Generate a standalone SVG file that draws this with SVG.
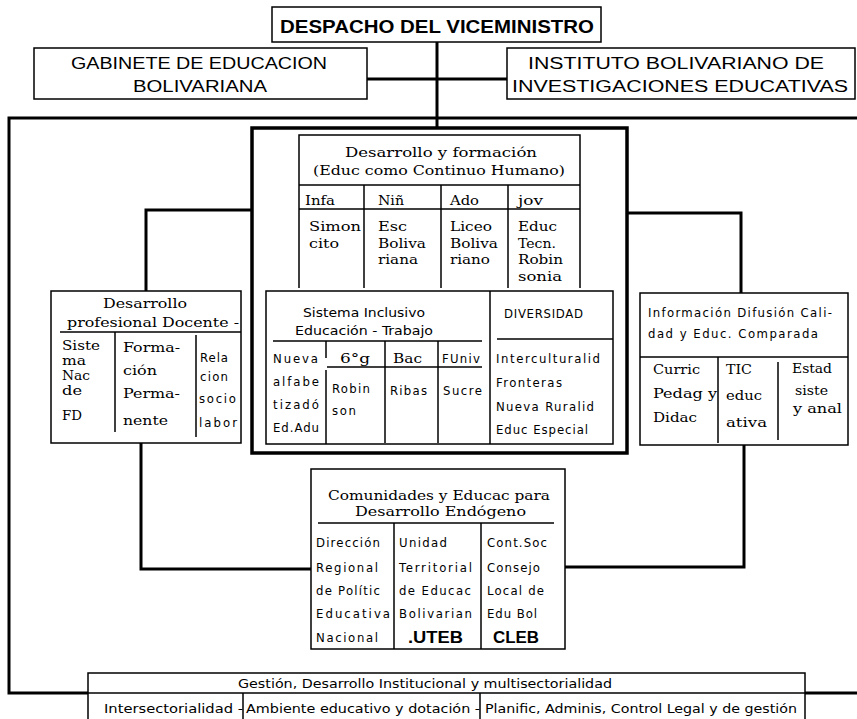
<svg xmlns="http://www.w3.org/2000/svg" width="857" height="719" viewBox="0 0 857 719">
<style>
.bg{fill:#fff}
.box{fill:#fff;stroke:#000;stroke-width:1.5}
.thin{stroke:#000;stroke-width:1.5;fill:none}
.con{stroke:#000;stroke-width:3;fill:none}
.thick{fill:none;stroke:#000;stroke-width:3.5}
.s{font-family:"DejaVu Serif","Liberation Serif",serif;font-size:13px;fill:#000}
.n{font-family:"DejaVu Sans Condensed","DejaVu Sans","Liberation Sans",sans-serif;font-size:13px;fill:#000}
.a{font-family:"Liberation Sans Narrow","Liberation Sans",Arial,sans-serif;font-size:16px;fill:#000}
.h{font-family:"Liberation Sans Narrow","Liberation Sans",Arial,sans-serif;font-size:18px;font-weight:bold;fill:#000}
.b{font-family:"Liberation Sans",Arial,sans-serif;font-size:16px;font-weight:bold;fill:#000}
</style>
<rect class="bg" x="0" y="0" width="857" height="719"/>

<g id="connectors">
<line class="con" x1="437" y1="42" x2="437" y2="128"/>
<line class="con" x1="367" y1="79" x2="507" y2="79"/>
<polyline class="con" points="857,118 9,118 9,693 88,693"/>
<line class="con" x1="805" y1="693" x2="857" y2="693"/>
<polyline class="con" points="252,210 146,210 146,291"/>
<polyline class="con" points="627,213 741,213 741,293"/>
<polyline class="con" points="141,443 141,569 311,569"/>
<polyline class="con" points="744,445 744,567 565,567"/>
</g>

<g id="despacho">
<rect class="box" x="272" y="7" width="329" height="35"/>
<text class="h" x="280" y="33" textLength="314" lengthAdjust="spacingAndGlyphs">DESPACHO DEL VICEMINISTRO</text>
</g>

<g id="gabinete">
<rect class="box" x="34" y="48" width="333" height="51"/>
<text class="a" x="71" y="69" textLength="256" lengthAdjust="spacingAndGlyphs">GABINETE DE EDUCACION</text>
<text class="a" x="133" y="92" textLength="134" lengthAdjust="spacingAndGlyphs">BOLIVARIANA</text>
</g>

<g id="instituto">
<rect class="box" x="507" y="48" width="348" height="51"/>
<text class="a" x="528" y="69" textLength="296" lengthAdjust="spacingAndGlyphs">INSTITUTO BOLIVARIANO  DE</text>
<text class="a" x="512" y="92" textLength="336" lengthAdjust="spacingAndGlyphs">INVESTIGACIONES   EDUCATIVAS</text>
</g>

<g id="desarrollo-formacion">
<rect class="thick" x="252" y="128" width="375" height="325"/>
<g id="continuo-humano">
<polyline class="thin" points="299,288 299,135 580,135 580,288"/>
<line class="thin" x1="299" y1="185" x2="580" y2="185"/>
<line class="thin" x1="299" y1="209" x2="580" y2="209"/>
<line class="thin" x1="364" y1="185" x2="364" y2="288"/>
<line class="thin" x1="441" y1="185" x2="441" y2="288"/>
<line class="thin" x1="508" y1="185" x2="508" y2="288"/>
<text class="s" x="345" y="157" font-size="14" textLength="192" lengthAdjust="spacingAndGlyphs">Desarrollo y formación</text>
<text class="s" x="313" y="175" font-size="14" textLength="252" lengthAdjust="spacingAndGlyphs">(Educ como Continuo Humano)</text>
<text class="s" x="305" y="205" textLength="30" lengthAdjust="spacingAndGlyphs">Infa</text>
<text class="s" x="378" y="205" textLength="26" lengthAdjust="spacingAndGlyphs">Niñ</text>
<text class="s" x="450" y="205" textLength="29" lengthAdjust="spacingAndGlyphs">Ado</text>
<text class="s" x="518" y="205" textLength="25" lengthAdjust="spacingAndGlyphs">jov</text>
<text class="s" x="309" y="231" textLength="52" lengthAdjust="spacingAndGlyphs">Simon</text>
<text class="s" x="309" y="248" textLength="30" lengthAdjust="spacingAndGlyphs">cito</text>
<text class="s" x="378" y="231" textLength="29" lengthAdjust="spacingAndGlyphs">Esc</text>
<text class="s" x="378" y="248" textLength="48" lengthAdjust="spacingAndGlyphs">Boliva</text>
<text class="s" x="378" y="264" textLength="40" lengthAdjust="spacingAndGlyphs">riana</text>
<text class="s" x="450" y="231" textLength="42" lengthAdjust="spacingAndGlyphs">Liceo</text>
<text class="s" x="450" y="248" textLength="48" lengthAdjust="spacingAndGlyphs">Boliva</text>
<text class="s" x="450" y="264" textLength="40" lengthAdjust="spacingAndGlyphs">riano</text>
<text class="s" x="518" y="231" textLength="39" lengthAdjust="spacingAndGlyphs">Educ</text>
<text class="s" x="518" y="248" textLength="38" lengthAdjust="spacingAndGlyphs">Tecn.</text>
<text class="s" x="518" y="264" textLength="45" lengthAdjust="spacingAndGlyphs">Robin</text>
<text class="s" x="518" y="281" textLength="44" lengthAdjust="spacingAndGlyphs">sonia</text>
</g>
<g id="sistema-inclusivo">
<rect class="box" x="266" y="291" width="347" height="153"/>
<line class="thin" x1="490" y1="291" x2="490" y2="444"/>
<line class="thin" x1="273" y1="341" x2="482" y2="341"/>
<line class="thin" x1="327" y1="367" x2="482" y2="367"/>
<line class="thin" x1="326" y1="341" x2="326" y2="358"/>
<line class="thin" x1="326" y1="370" x2="326" y2="444"/>
<line class="thin" x1="385" y1="341" x2="385" y2="443"/>
<line class="thin" x1="438" y1="341" x2="438" y2="443"/>
<text class="n" x="303" y="317" textLength="122" lengthAdjust="spacingAndGlyphs">Sistema Inclusivo</text>
<text class="n" x="295" y="335" textLength="138" lengthAdjust="spacingAndGlyphs">Educación - Trabajo</text>
<text class="n" x="273" y="363" textLength="45" lengthAdjust="spacing">Nueva</text>
<text class="s" x="340" y="363" font-size="14" textLength="30" lengthAdjust="spacingAndGlyphs">6°g</text>
<text class="s" x="393" y="363" font-size="14" textLength="29" lengthAdjust="spacingAndGlyphs">Bac</text>
<text class="n" x="442" y="363" textLength="38" lengthAdjust="spacing">FUniv</text>
<text class="n" x="273" y="386" textLength="46" lengthAdjust="spacing">alfabe</text>
<text class="n" x="273" y="409" textLength="46" lengthAdjust="spacing">tizadó</text>
<text class="n" x="273" y="432" textLength="46" lengthAdjust="spacing">Ed.Adu</text>
<text class="n" x="332" y="393" textLength="38" lengthAdjust="spacing">Robin</text>
<text class="n" x="332" y="415" textLength="24" lengthAdjust="spacing">son</text>
<text class="n" x="390" y="395" textLength="37" lengthAdjust="spacing">Ribas</text>
<text class="n" x="443" y="395" textLength="39" lengthAdjust="spacing">Sucre</text>
</g>
<g id="diversidad">
<line class="thin" x1="497" y1="339" x2="613" y2="339"/>
<text class="n" x="504" y="318" textLength="79" lengthAdjust="spacing">DIVERSIDAD</text>
<text class="n" x="496" y="363" textLength="104" lengthAdjust="spacing">Interculturalid</text>
<text class="n" x="496" y="387" textLength="66" lengthAdjust="spacing">Fronteras</text>
<text class="n" x="496" y="411" textLength="98" lengthAdjust="spacing">Nueva Ruralid</text>
<text class="n" x="496" y="434" textLength="92" lengthAdjust="spacing">Educ Especial</text>
</g>
</g>

<g id="desarrollo-docente">
<rect class="box" x="51" y="291" width="190" height="152"/>
<line class="thin" x1="60" y1="332" x2="241" y2="332"/>
<line class="thin" x1="115" y1="332" x2="115" y2="432"/>
<line class="thin" x1="196" y1="335" x2="196" y2="437"/>
<text class="s" x="103" y="308" font-size="14" textLength="84" lengthAdjust="spacingAndGlyphs">Desarrollo</text>
<text class="s" x="67" y="327" font-size="14" textLength="172" lengthAdjust="spacingAndGlyphs">profesional Docente -</text>
<text class="s" x="62" y="350" textLength="38" lengthAdjust="spacingAndGlyphs">Siste</text>
<text class="s" x="62" y="365" textLength="24" lengthAdjust="spacingAndGlyphs">ma</text>
<text class="s" x="62" y="380" textLength="28" lengthAdjust="spacingAndGlyphs">Nac</text>
<text class="s" x="62" y="395" textLength="20" lengthAdjust="spacingAndGlyphs">de</text>
<text class="s" x="62" y="420" textLength="20" lengthAdjust="spacingAndGlyphs">FD</text>
<text class="s" x="123" y="352" textLength="57" lengthAdjust="spacingAndGlyphs">Forma-</text>
<text class="s" x="123" y="375" textLength="34" lengthAdjust="spacingAndGlyphs">ción</text>
<text class="s" x="123" y="398" textLength="57" lengthAdjust="spacingAndGlyphs">Perma-</text>
<text class="s" x="123" y="425" textLength="45" lengthAdjust="spacingAndGlyphs">nente</text>
<text class="n" x="200" y="362" textLength="28" lengthAdjust="spacing">Rela</text>
<text class="n" x="200" y="381" textLength="28" lengthAdjust="spacing">cion</text>
<text class="n" x="199" y="403" textLength="37" lengthAdjust="spacing">socio</text>
<text class="n" x="199" y="427" textLength="38" lengthAdjust="spacing">labor</text>
</g>

<g id="informacion">
<rect class="box" x="640" y="293" width="208" height="152"/>
<line class="thin" x1="640" y1="357" x2="848" y2="357"/>
<line class="thin" x1="718" y1="357" x2="718" y2="443"/>
<line class="thin" x1="778" y1="362" x2="778" y2="440"/>
<text class="n" x="648" y="317" textLength="184" lengthAdjust="spacing">Información Difusión Cali-</text>
<text class="n" x="648" y="338" textLength="170" lengthAdjust="spacing">dad y Educ. Comparada</text>
<text class="s" x="653" y="374" textLength="47" lengthAdjust="spacingAndGlyphs">Curric</text>
<text class="s" x="653" y="398" textLength="64" lengthAdjust="spacingAndGlyphs">Pedag y</text>
<text class="s" x="653" y="422" textLength="44" lengthAdjust="spacingAndGlyphs">Didac</text>
<text class="s" x="726" y="374" textLength="26" lengthAdjust="spacingAndGlyphs">TIC</text>
<text class="s" x="726" y="400" textLength="36" lengthAdjust="spacingAndGlyphs">educ</text>
<text class="s" x="726" y="427" textLength="41" lengthAdjust="spacingAndGlyphs">ativa</text>
<text class="s" x="792" y="373" textLength="40" lengthAdjust="spacingAndGlyphs">Estad</text>
<text class="s" x="795" y="395" textLength="33" lengthAdjust="spacingAndGlyphs">siste</text>
<text class="s" x="793" y="413" textLength="49" lengthAdjust="spacingAndGlyphs">y anal</text>
</g>

<g id="comunidades">
<rect class="box" x="311" y="469" width="254" height="180"/>
<line class="thin" x1="318" y1="523" x2="554" y2="523"/>
<line class="thin" x1="394" y1="523" x2="394" y2="649"/>
<line class="thin" x1="481" y1="523" x2="481" y2="649"/>
<text class="s" x="328" y="500" font-size="14" textLength="222" lengthAdjust="spacingAndGlyphs">Comunidades y Educac para</text>
<text class="s" x="355" y="516" font-size="14" textLength="171" lengthAdjust="spacingAndGlyphs">Desarrollo Endógeno</text>
<text class="n" x="316" y="547" textLength="64" lengthAdjust="spacing">Dirección</text>
<text class="n" x="316" y="572" textLength="62" lengthAdjust="spacing">Regional</text>
<text class="n" x="316" y="595" textLength="64" lengthAdjust="spacing">de Polític</text>
<text class="n" x="316" y="618" textLength="74" lengthAdjust="spacing">Educativa</text>
<text class="n" x="316" y="642" textLength="62" lengthAdjust="spacing">Nacional</text>
<text class="n" x="399" y="547" textLength="48" lengthAdjust="spacing">Unidad</text>
<text class="n" x="399" y="572" textLength="73" lengthAdjust="spacing">Territorial</text>
<text class="n" x="399" y="595" textLength="72" lengthAdjust="spacing">de Educac</text>
<text class="n" x="399" y="618" textLength="73" lengthAdjust="spacing">Bolivarian</text>
<text class="b" x="408" y="643" textLength="55" lengthAdjust="spacingAndGlyphs">.UTEB</text>
<text class="n" x="487" y="547" textLength="60" lengthAdjust="spacing">Cont.Soc</text>
<text class="n" x="487" y="572" textLength="53" lengthAdjust="spacing">Consejo</text>
<text class="n" x="487" y="595" textLength="57" lengthAdjust="spacing">Local de</text>
<text class="n" x="487" y="618" textLength="50" lengthAdjust="spacing">Edu Bol</text>
<text class="b" x="493" y="643" textLength="46" lengthAdjust="spacingAndGlyphs">CLEB</text>
</g>

<g id="gestion">
<rect class="box" x="88" y="673" width="717" height="50"/>
<line class="thin" x1="88" y1="693" x2="805" y2="693"/>
<line class="thin" x1="243" y1="693" x2="243" y2="719"/>
<line class="thin" x1="480" y1="693" x2="480" y2="719"/>
<text class="n" x="238" y="688" textLength="374" lengthAdjust="spacingAndGlyphs">Gestión, Desarrollo Institucional y multisectorialidad</text>
<text class="n" x="104" y="713" textLength="139" lengthAdjust="spacingAndGlyphs">Intersectorialidad -</text>
<text class="n" x="246" y="713" textLength="234" lengthAdjust="spacingAndGlyphs">Ambiente educativo y dotación -</text>
<text class="n" x="485" y="713" textLength="312" lengthAdjust="spacingAndGlyphs">Planific, Adminis, Control Legal y de gestión</text>
</g>
</svg>
